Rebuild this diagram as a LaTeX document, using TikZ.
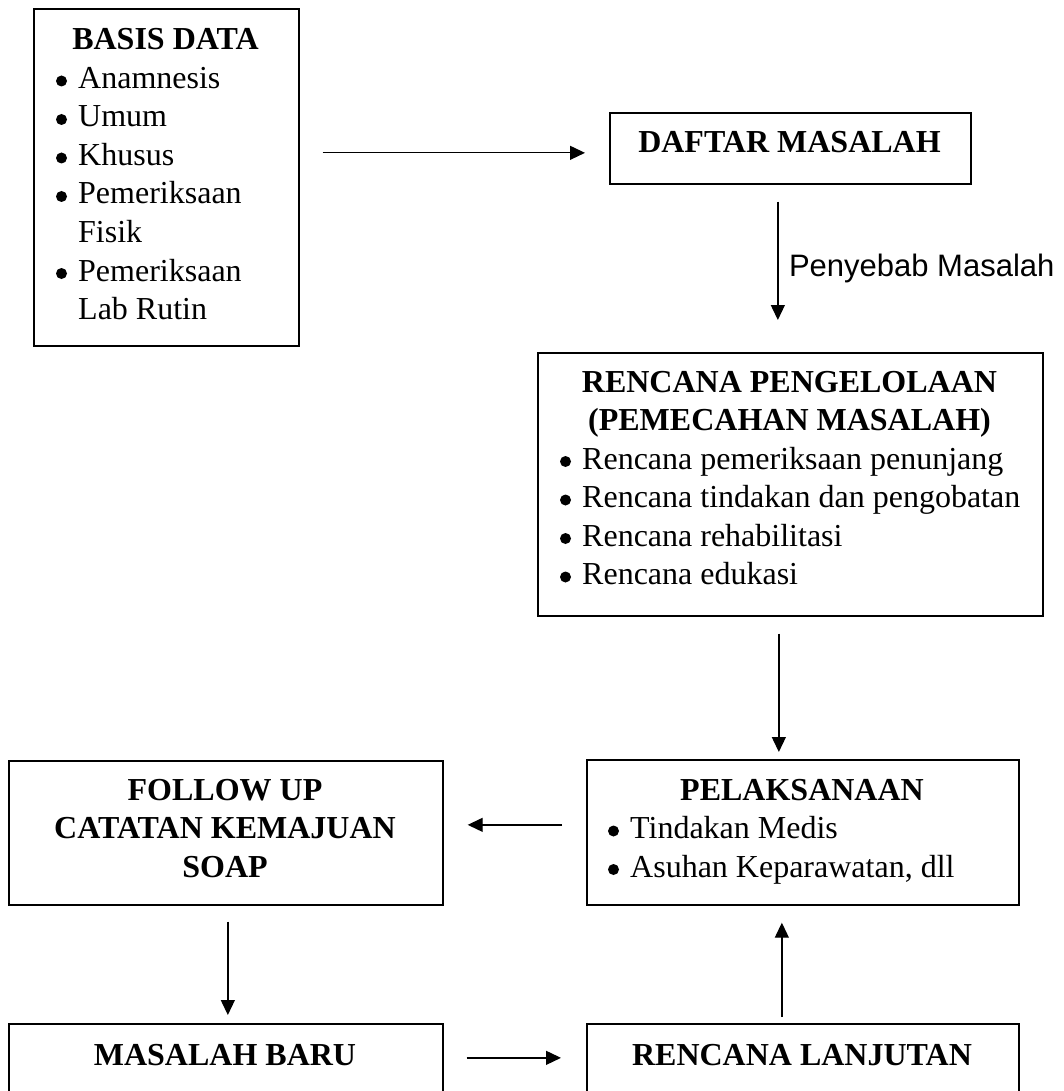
\documentclass[tikz,border=0pt]{standalone}
\usepackage{fontspec}
\setmainfont{Liberation Serif}
\newfontfamily\arialfont{Liberation Sans}
\usetikzlibrary{arrows.meta,calc}
\newcommand{\bitem}[4]{\node[item] (#1) at (#2,#3) {#4};\fill ($(#1.base west)+(-16.5,-7.5)$) circle (5.5pt);}
\begin{document}
\begin{tikzpicture}[x=1pt,y=-1pt,
  box/.style={draw=black, line width=1.7pt, rectangle, inner sep=0pt, anchor=north west},
  ttl/.style={inner sep=0pt, font=\fontsize{32}{38.5}\selectfont\bfseries, anchor=base},
  item/.style={inner sep=0pt, font=\fontsize{32}{38.5}\selectfont, anchor=base west},
  arr/.style={line width=1.3pt, -{Triangle[length=15pt,width=14pt]}},
  lbl/.style={inner sep=0pt, font=\arialfont\fontsize{31}{36}\selectfont, anchor=base west}
]
\useasboundingbox (0,0) rectangle (1064,1091);
\clip (0,0) rectangle (1064,1091);

% boxes
\node[box, minimum width=265pt, minimum height=337pt] (basis) at (33,8) {};
\node[box, minimum width=361pt, minimum height=71pt] (daftar) at (609,112) {};
\node[box, minimum width=505pt, minimum height=263pt] (rencana) at (537,352) {};
\node[box, minimum width=432pt, minimum height=145pt] (pelak) at (586,759) {};
\node[box, minimum width=434pt, minimum height=144pt] (follow) at (8,760) {};
\node[box, minimum width=434pt, minimum height=100pt] (masalah) at (8,1023) {};
\node[box, minimum width=432pt, minimum height=100pt] (lanjutan) at (586,1023) {};

% basis data
\node[ttl] (basisT) at (165.5,50) {BASIS DATA};
\bitem{b1}{78}{88.5}{Anamnesis}
\bitem{b2}{78}{127}{Umum}
\bitem{b3}{78}{165.5}{Khusus}
\bitem{b4}{78}{204}{Pemeriksaan}
\node[item] (b4b) at (78,242.5) {Fisik};
\bitem{b5}{78}{281}{Pemeriksaan}
\node[item] (b5b) at (78,319.5) {Lab Rutin};

% daftar masalah
\node[ttl] (daftarT) at (789.5,153) {DAFTAR MASALAH};

% rencana pengelolaan
\node[ttl] (rencanaT1) at (789.5,392) {RENCANA PENGELOLAAN};
\node[ttl] (rencanaT2) at (789.5,430.5) {(PEMECAHAN MASALAH)};
\bitem{r1}{582}{469}{Rencana pemeriksaan penunjang}
\bitem{r2}{582}{507.5}{Rencana tindakan dan pengobatan}
\bitem{r3}{582}{546}{Rencana rehabilitasi}
\bitem{r4}{582}{584.5}{Rencana edukasi}

% pelaksanaan
\node[ttl] (pelakT) at (802,800) {PELAKSANAAN};
\bitem{p1}{630}{838.5}{Tindakan Medis}
\bitem{p2}{630}{877}{Asuhan Keparawatan, dll}

% follow up
\node[ttl] (followT1) at (225,800) {FOLLOW UP};
\node[ttl] (followT2) at (225,838.5) {CATATAN KEMAJUAN};
\node[ttl] (followT3) at (225,877) {SOAP};

% bottom boxes
\node[ttl] (masalahT) at (225,1065) {MASALAH BARU};
\node[ttl] (lanjutanT) at (802,1065) {RENCANA LANJUTAN};

% connectors
\draw[arr] ($(basis.east |- daftar.center)+(23,4.5)$) -- ($(daftar.west)+(-24,4.5)$);
\draw[arr] ($(daftar.south)+(-12.5,17)$) -- ($(daftar.south |- rencana.north)+(-12.5,-32)$);
\node[lbl] (penyebab) at ($(daftar.south)+(-1.5,92)$) {Penyebab Masalah};
\draw[arr] ($(rencana.south)+(-11.5,17)$) -- ($(rencana.south |- pelak.north)+(-11.5,-7)$);
\draw[arr] ($(pelak.west)+(-24,-7.5)$) -- ($(follow.east)+(24,-8)$);
\draw[arr] ($(follow.south)+(2,16)$) -- ($(follow.south |- masalah.north)+(2,-8)$);
\draw[arr] ($(masalah.east)+(23,-16)$) -- ($(lanjutan.west)+(-25,-16)$);
\draw[arr] ($(lanjutan.north)+(-21,-6)$) -- ($(lanjutan.north |- pelak.south)+(-21,17)$);
\end{tikzpicture}
\end{document}
